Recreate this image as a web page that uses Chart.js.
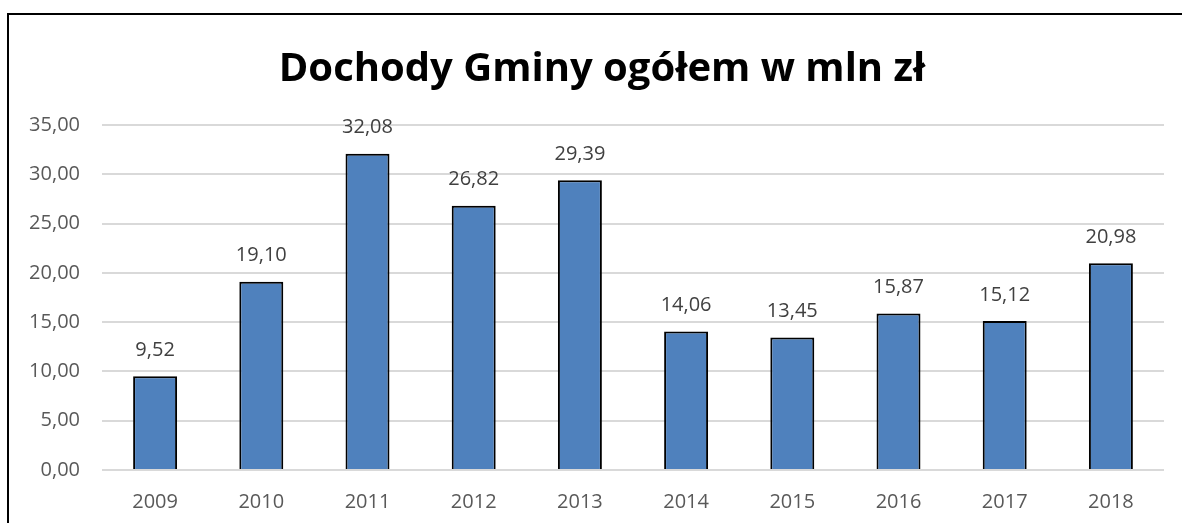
<!DOCTYPE html>
<html>
<head>
<meta charset="utf-8">
<script src="https://cdn.jsdelivr.net/npm/chart.js@4/dist/chart.umd.min.js"></script>
<style>
  html, body { margin: 0; padding: 0; background: #fff; }
  #wrap { position: relative; width: 1182px; height: 523px; overflow: hidden; }
  #frame { position: absolute; left: 7px; top: 13px; width: 1300px; height: 600px;
           border-left: 2px solid #000; border-top: 2px solid #000; pointer-events: none; }
</style>
</head>
<body>
<div id="wrap">
  <canvas id="myChart" width="1182" height="523"></canvas>
  <div id="frame"></div>
</div>
<script>
const years = ['2009', '2010', '2011', '2012', '2013', '2014', '2015', '2016', '2017', '2018'];
const dochody = [9.52, 19.10, 32.08, 26.82, 29.39, 14.06, 13.45, 15.87, 15.12, 20.98];
const tytul = 'Dochody Gminy ogółem w mln zł';

function plNum(v) {
  return v.toFixed(2).replace('.', ',');
}

// etykiety nad słupkami + tytuł
const barLabels = {
  id: 'barLabels',
  afterDatasetsDraw(chart) {
    const ctx = chart.ctx;
    const meta = chart.getDatasetMeta(0);
    ctx.save();
    ctx.font = '20px "Open Sans"';
    ctx.fillStyle = '#404040';
    ctx.textAlign = 'center';
    ctx.textBaseline = 'middle';
    meta.data.forEach((bar, i) => {
      ctx.fillText(plNum(dochody[i]), bar.x, bar.y - 26);
    });
    // tytuł wykresu
    ctx.font = 'bold 40px "Open Sans"';
    ctx.fillStyle = '#000';
    ctx.fillText(tytul, 602, 70);
    ctx.restore();
  }
};

new Chart('myChart', {
  type: 'bar',
  data: {
    labels: years,
    datasets: [{
      label: 'Dochody',
      data: dochody,
      backgroundColor: '#4F81BD',
      borderColor: '#000000',
      borderWidth: 2,
      barPercentage: 0.414,
      categoryPercentage: 1
    }]
  },
  options: {
    responsive: false,
    animation: false,
    layout: { padding: { left: 0, right: 18, top: 125, bottom: 0 } },
    plugins: {
      legend: { display: false },
      tooltip: { enabled: false },
      title: { display: false }
    },
    scales: {
      x: {
        grid: { display: false, drawTicks: false },
        border: { display: false },
        ticks: { color: '#595959', font: { family: 'Open Sans', size: 20 }, padding: 20 },
        afterFit: s => { s.height = 53; }
      },
      y: {
        min: 0,
        max: 35,
        grid: { color: '#D9D9D9', lineWidth: 2, drawTicks: false },
        border: { display: false },
        ticks: {
          stepSize: 5,
          color: '#595959',
          font: { family: 'Open Sans', size: 20 },
          padding: 22,
          callback: v => plNum(v)
        },
        afterFit: s => { s.width = 102; }
      }
    }
  },
  plugins: [barLabels]
});
</script>
</body>
</html>
